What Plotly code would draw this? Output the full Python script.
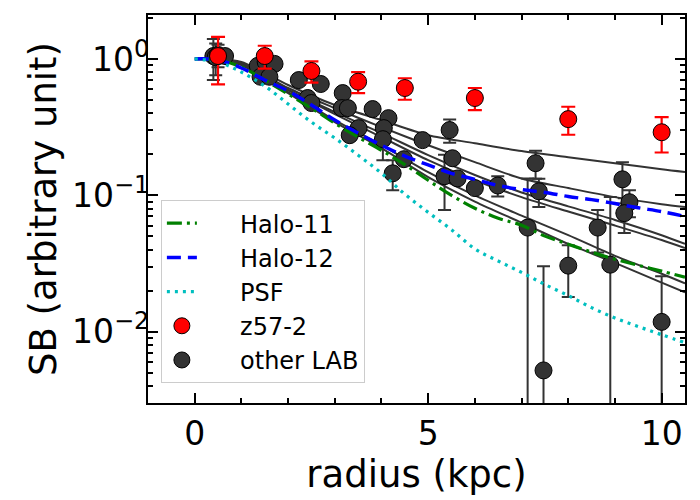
import numpy as np
import plotly.graph_objects as go

# ---------------- data ----------------
# z57-2 surface brightness profile
z57_r = [0.5, 1.5, 2.5, 3.5, 4.5, 6.0, 8.0, 10.0]
z57_sb = [1.05, 1.05, 0.816, 0.681, 0.612, 0.517, 0.362, 0.29]
z57_err = [0.40, 0.20, 0.145, 0.12, 0.11, 0.095, 0.084, 0.084]

# other LAB profiles (all points together)
other_r = [0.40, 0.45, 0.50, 0.65, 1.35, 1.52, 1.71, 1.41, 1.60, 2.23, 2.70, 2.42,
           2.50, 3.17, 3.15, 3.28, 3.51, 3.32, 3.81, 4.15, 4.05, 4.03, 4.24, 4.48,
           4.88, 5.46, 5.52, 5.35, 5.63, 6.00, 6.49, 7.30, 7.37, 7.13, 7.47, 8.00,
           8.63, 8.90, 9.16, 9.31, 9.20, 10.0]
other_sb = [1.05, 1.03, 1.07, 1.05, 0.89, 0.95, 0.92, 0.74, 0.74, 0.70, 0.655, 0.517,
            0.475, 0.562, 0.436, 0.436, 0.311, 0.276, 0.429, 0.368, 0.311, 0.258, 0.145, 0.184,
            0.254, 0.301, 0.187, 0.138, 0.133, 0.113, 0.118, 0.172, 0.107, 0.058, 0.0052, 0.0305,
            0.058, 0.031, 0.131, 0.089, 0.074, 0.0118]
other_err = [0.35, 0.27, 0.20, 0.05, 0.04, 0.04, 0.04, 0.03, 0.03, 0.03, 0.03, 0.025,
             0.02, 0.025, 0.02, 0.02, 0.015, 0.012, 0.02, 0.02, 0.015, 0.077, 0.036, 0.01,
             0.012, 0.058, 0.01, 0.06, 0.008, 0.006, 0.02, 0.04, 0.025, 0.075, 0.025, 0.0125,
             0.02, 0.066, 0.044, 0.02, 0.021, 0.0137]

# model profiles
model_r = [0.0, 0.5, 1.0, 1.5, 2.0, 2.5, 3.0, 3.5, 4.0, 4.5, 5.0, 5.5, 6.0, 6.5, 7.0,
           7.5, 8.0, 8.5, 9.0, 9.5, 10.0, 10.5]
halo11 = [1.0, 0.983, 0.873, 0.701, 0.553, 0.436, 0.338, 0.267, 0.214, 0.168, 0.129, 0.100,
          0.0803, 0.0679, 0.0604, 0.0502, 0.0438, 0.0383, 0.0340, 0.0307, 0.0278, 0.0251]
halo12 = [1.0, 0.983, 0.858, 0.701, 0.582, 0.459, 0.356, 0.286, 0.233, 0.194, 0.167, 0.145,
          0.131, 0.118, 0.110, 0.105, 0.098, 0.093, 0.087, 0.081, 0.076, 0.070]
psf = [1.0, 0.95, 0.80, 0.633, 0.467, 0.344, 0.263, 0.197, 0.145, 0.102, 0.075, 0.056,
       0.0405, 0.0330, 0.0272, 0.0222, 0.0184, 0.0150, 0.0126, 0.0109, 0.0095, 0.0083]

# fitted profiles of the other LABs
fit_r = [0.5, 1.0, 2.0, 3.0, 4.0, 5.0, 6.0, 7.0, 8.0, 9.0, 10.0, 10.5]
fit_a = [1.0, 0.95, 0.644, 0.459, 0.356, 0.276, 0.241, 0.211, 0.190, 0.172, 0.155, 0.148]
fit_b = [1.0, 0.935, 0.612, 0.436, 0.316, 0.233, 0.175, 0.133, 0.113, 0.097, 0.086, 0.082]
fit_c = [1.0, 0.919, 0.592, 0.408, 0.286, 0.197, 0.141, 0.105, 0.083, 0.066, 0.051, 0.044]
fit_d = [1.0, 0.919, 0.592, 0.394, 0.267, 0.181, 0.129, 0.097, 0.076, 0.060, 0.047, 0.041]
fit_e = [1.0, 0.904, 0.572, 0.356, 0.233, 0.148, 0.100, 0.071, 0.051, 0.036, 0.0266, 0.0226]
fit_f = [1.0, 0.904, 0.562, 0.344, 0.222, 0.136, 0.090, 0.063, 0.044, 0.032, 0.0229, 0.0194]
fits = [fit_a, fit_b, fit_c, fit_d, fit_e, fit_f]

legend_names = ["Halo-11", "Halo-12", "PSF", "z57-2", "other LAB"]

x_lim = [-1.0, 10.5]
y_lim = [0.003, 2.1]
x_ticks = [0, 5, 10]
x_ticktext = ["0", "5", "10"]
x_minor = [1, 2, 3, 4, 6, 7, 8, 9]
y_ticks = [1.0, 0.1, 0.01]
y_ticktext = ["10<sup><span style='font-size:24px'>0</span></sup>",
              "10<sup><span style='font-size:24px'>\u22121</span></sup>",
              "10<sup><span style='font-size:24px'>\u22122</span></sup>"]
y_minor = [m * 10.0 ** e for e in (-3, -2, -1, 0) for m in range(2, 10)]

# ---------------- figure ----------------
FONT = "DejaVu Sans"
DARK = "#333333"
PAD = "\u00a0" * 5
fig = go.Figure()

for f in fits:
    fig.add_trace(go.Scatter(x=fit_r, y=f, mode="lines", showlegend=False,
                             line=dict(color=DARK, width=2, shape="spline", smoothing=0.8),
                             hoverinfo="skip"))

fig.add_trace(go.Scatter(
    x=other_r, y=other_sb, mode="markers", name=PAD + legend_names[4],
    legendgroup="g5", legendrank=5,
    marker=dict(size=17, color=DARK, line=dict(color="black", width=1)),
    error_y=dict(type="data", array=other_err, color=DARK, thickness=2, width=6.5)))

fig.add_trace(go.Scatter(
    x=model_r, y=halo11, mode="lines", name=PAD + legend_names[0], legendgroup="g1", legendrank=1,
    line=dict(color="green", width=3.2, dash="15px,5px,3px,5px", shape="spline")))
fig.add_trace(go.Scatter(
    x=model_r, y=halo12, mode="lines", name=PAD + legend_names[1], legendgroup="g2", legendrank=2,
    line=dict(color="blue", width=3.5, dash="14px,7px", shape="spline")))
fig.add_trace(go.Scatter(
    x=model_r, y=psf, mode="lines", name=PAD + legend_names[2], legendgroup="g3", legendrank=3,
    line=dict(color="#00bfbf", width=3.2, dash="3px,5px", shape="spline")))

fig.add_trace(go.Scatter(
    x=z57_r, y=z57_sb, mode="markers", name=PAD + legend_names[3], legendgroup="g4", legendrank=4,
    marker=dict(size=17, color="red", line=dict(color="black", width=1)),
    error_y=dict(type="data", array=z57_err, color="red", thickness=2.2, width=7)))

axis_common = dict(
    showline=True, linewidth=2, linecolor="black", mirror="allticks",
    ticks="inside", ticklen=10, tickwidth=2, tickcolor="black",
    showgrid=False, zeroline=False, automargin=False,
    tickfont=dict(family=FONT, size=33, color="black"),
)

fig.update_xaxes(
    range=x_lim, tickmode="array", tickvals=x_ticks, ticktext=x_ticktext,
    minor=dict(tickmode="array", tickvals=x_minor, ticks="inside", ticklen=5,
               tickwidth=1.5, tickcolor="black", showgrid=False),
    title=dict(text="radius (kpc)", font=dict(family=FONT, size=37, color="black"), standoff=6),
    **axis_common)
fig.update_yaxes(
    type="log", range=[np.log10(y_lim[0]), np.log10(y_lim[1])],
    tickmode="array", tickvals=y_ticks, ticktext=y_ticktext,
    ticklabelstandoff=-10,
    minor=dict(tickmode="array", tickvals=y_minor, ticks="inside", ticklen=5,
               tickwidth=1.5, tickcolor="black", showgrid=False),
    title=dict(text="SB (arbitrary unit)", font=dict(family=FONT, size=37, color="black"), standoff=4),
    **axis_common)

fig.update_layout(
    width=700, height=500, autosize=False,
    margin=dict(l=148, r=15, t=15, b=97),
    paper_bgcolor="white", plot_bgcolor="white",
    font=dict(family=FONT, color="black"),
    legend=dict(x=0.024, y=0.523, xanchor="left", yanchor="top",
                bgcolor="rgba(255,255,255,0.85)", bordercolor="#cccccc", borderwidth=1,
                font=dict(family=FONT, size=24, color="black"),
                tracegroupgap=8, traceorder="normal"),
)

fig.write_html("out.html")
